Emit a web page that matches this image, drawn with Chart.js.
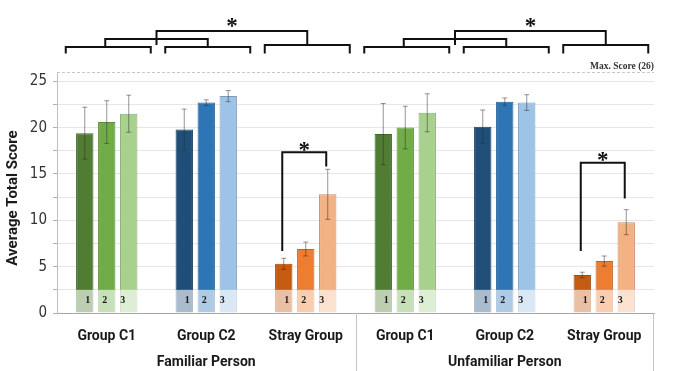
<!DOCTYPE html>
<html lang="en">
<head>
  <meta charset="UTF-8">
  <title>Average Total Score</title>
  <script src="https://cdn.jsdelivr.net/npm/chart.js"></script>
  <style>
    body { margin: 0; background: #fff; }
    .wrap { width: 690px; height: 371px; position: relative; }
  </style>
</head>
<body>
  <div class="wrap"><canvas id="chart"></canvas></div>

  <script>
    // data
    const groups = ['Group C1', 'Group C2', 'Stray Group', 'Group C1', 'Group C2', 'Stray Group'];
    const conditions = ['Familiar Person', 'Unfamiliar Person'];
    const sessions = ['1', '2', '3'];
    const score1 = [19.4, 19.8, 5.3, 19.3, 20.1, 4.1];
    const score2 = [20.6, 22.7, 6.9, 20.0, 22.8, 5.6];
    const score3 = [21.5, 23.4, 12.8, 21.6, 22.7, 9.8];
    const err1 = [2.8, 2.2, 0.6, 3.3, 1.8, 0.3];
    const err2 = [2.3, 0.3, 0.75, 2.3, 0.4, 0.55];
    const err3 = [2.0, 0.6, 2.7, 2.05, 0.85, 1.35];
    const yTicks = [0, 2.5, 5, 7.5, 10, 12.5, 15, 17.5, 20, 22.5, 25, 26];
    const maxScore = 26;

    // colours: [green, blue, orange] x session shade
    const palette = [
      ['#507d33', '#1f4e79', '#c55a11'],
      ['#70ad47', '#2e75b6', '#ed7d31'],
      ['#a9d18e', '#9dc3e6', '#f4b183']
    ];
    const borders = [
      ['#3f6428', '#183e60', '#9e480d'],
      ['#5a8c39', '#255e92', '#be6427'],
      ['#88a872', '#7e9cb8', '#c38e69']
    ];
    const colorsFor = (set, s) => groups.map((g, i) => set[s][i % 3]);

    const scores = [score1, score2, score3];
    const errs = [err1, err2, err3];

    const boldSans = '"Roboto", "DejaVu Sans", sans-serif';
    const narrow = '"Liberation Sans Narrow", "DejaVu Sans Condensed", sans-serif';
    const serif = '"Liberation Serif", "DejaVu Serif", serif';

    const extras = {
      id: 'extras',
      afterDatasetsDraw(chart) {
        const { ctx, scales: { x, y } } = chart;
        const base0 = y.getPixelForValue(0);
        const base25 = y.getPixelForValue(2.5);
        const numOffset = [3, -2, -6];

        ctx.save();
        chart.data.datasets.forEach((ds, s) => {
          chart.getDatasetMeta(s).data.forEach((bar, i) => {
            const left = bar.x - bar.width / 2;
            // washed out foot of each bar
            ctx.fillStyle = 'rgba(255,255,255,0.62)';
            ctx.fillRect(left - 0.5, base25, bar.width + 1, base0 - base25);
            ctx.fillStyle = '#1a1a1a';
            ctx.font = 'bold 10px ' + serif;
            ctx.textAlign = 'center';
            ctx.textBaseline = 'middle';
            ctx.fillText(sessions[s], bar.x + numOffset[s], 300);

            // error bar
            const v = ds.data[i], e = errs[s][i];
            const yt = y.getPixelForValue(v + e), yb = y.getPixelForValue(v - e);
            ctx.strokeStyle = 'rgba(45,45,45,0.5)';
            ctx.lineWidth = 1;
            ctx.beginPath();
            ctx.moveTo(bar.x, yt); ctx.lineTo(bar.x, yb);
            ctx.moveTo(bar.x - 2.5, yt); ctx.lineTo(bar.x + 2.5, yt);
            ctx.moveTo(bar.x - 2.5, yb); ctx.lineTo(bar.x + 2.5, yb);
            ctx.stroke();
          });
        });

        // dashed max score line
        ctx.strokeStyle = '#c8c8c8';
        ctx.setLineDash([3, 2]);
        ctx.beginPath();
        const ym = Math.round(y.getPixelForValue(maxScore)) + 0.5;
        ctx.moveTo(chart.chartArea.left, ym);
        ctx.lineTo(chart.chartArea.right, ym);
        ctx.stroke();
        ctx.setLineDash([]);
        ctx.fillStyle = '#333';
        ctx.font = 'bold 9.5px ' + serif;
        ctx.textAlign = 'right';
        ctx.textBaseline = 'alphabetic';
        ctx.fillText('Max. Score (26)', chart.chartArea.right, 69);

        // significance brackets over the stray group
        const m1 = chart.getDatasetMeta(0), m3 = chart.getDatasetMeta(2);
        const star = (cx, cy) => {
          ctx.fillStyle = '#111';
          ctx.font = 'bold 23px ' + serif;
          ctx.textAlign = 'center';
          ctx.textBaseline = 'top';
          ctx.fillText('*', cx, cy);
        };
        ctx.strokeStyle = '#111';
        ctx.lineWidth = 2;
        [[2, 17.35, 6.7, 15.8], [5, 16.2, 6.7, 12.35]].forEach(([i, top, lb, rb]) => {
          const xl = m1.data[i].x - 1.5, xr = m3.data[i].x - 1.5;
          ctx.beginPath();
          ctx.moveTo(xl, y.getPixelForValue(lb));
          ctx.lineTo(xl, y.getPixelForValue(top));
          ctx.lineTo(xr, y.getPixelForValue(top));
          ctx.lineTo(xr, y.getPixelForValue(rb));
          ctx.stroke();
          star((xl + xr) / 2, y.getPixelForValue(top) - 13);
        });

        // comparison tree on top
        const bracket = (xl, xr, yTop, yBot) => {
          ctx.beginPath();
          ctx.moveTo(xl, yBot); ctx.lineTo(xl, yTop);
          ctx.lineTo(xr, yTop); ctx.lineTo(xr, yBot);
          ctx.stroke();
        };
        [0, 3].forEach(k => {
          const mids = [];
          for (let j = 0; j < 3; j++) {
            const c = x.getPixelForValue(k + j);
            const yTop = j === 2 ? 45 : 47;
            bracket(c - 41, c + 44, yTop, 53.5);
            mids.push((c - 41 + c + 44) / 2);
          }
          bracket(mids[0] - 3, mids[1], 39, 47);
          const m12 = (mids[0] - 3 + mids[1]) / 2;
          bracket(m12, mids[2], 31, 45);
          star((m12 + mids[2]) / 2, 16);
        });
        ctx.restore();
      },
      afterDraw(chart) {
        const { ctx, chartArea, scales: { x } } = chart;
        ctx.save();
        // separators under the axis
        ctx.strokeStyle = '#c4c4c4';
        ctx.lineWidth = 1;
        const sep = Math.round((x.getPixelForValue(2) + x.getPixelForValue(3)) / 2) + 0.5;
        ctx.beginPath();
        ctx.moveTo(sep, chartArea.bottom); ctx.lineTo(sep, 371);
        ctx.moveTo(Math.round(chartArea.right) - 0.5, chartArea.bottom);
        ctx.lineTo(Math.round(chartArea.right) - 0.5, 371);
        ctx.stroke();
        // condition labels
        ctx.fillStyle = '#1a1a1a';
        ctx.font = 'bold 14px ' + boldSans;
        ctx.textAlign = 'center';
        ctx.textBaseline = 'middle';
        conditions.forEach((c, k) => ctx.fillText(c, x.getPixelForValue(k * 3 + 1), 362));
        // y title
        ctx.translate(13, 198);
        ctx.rotate(-Math.PI / 2);
        ctx.font = 'bold 15px ' + boldSans;
        ctx.fillText('Average Total Score', 0, 0);
        ctx.restore();
      }
    };

    new Chart(document.getElementById('chart'), {
      type: 'bar',
      data: {
        labels: groups,
        datasets: scores.map((data, s) => ({
          label: sessions[s],
          data,
          backgroundColor: colorsFor(palette, s),
          borderColor: colorsFor(borders, s),
          borderWidth: 1,
          categoryPercentage: 0.663,
          barPercentage: 0.79
        }))
      },
      options: {
        responsive: true,
        maintainAspectRatio: false,
        animation: false,
        layout: { padding: { left: 0, right: 36, top: 72, bottom: 0 } },
        plugins: { legend: { display: false }, tooltip: { enabled: false } },
        scales: {
          x: {
            grid: { display: false },
            border: { color: '#a6a6a6' },
            ticks: {
              color: '#1a1a1a',
              padding: 7,
              font: { family: boldSans, size: 14, weight: 'bold' }
            },
            afterFit: s => { s.height = 58; }
          },
          y: {
            min: 0,
            max: maxScore,
            afterBuildTicks: s => { s.ticks = yTicks.map(v => ({ value: v })); },
            afterFit: s => { s.width = 57; },
            grid: {
              color: c => (c.tick && c.tick.value === maxScore) ? 'rgba(0,0,0,0)' : '#e6e6e6',
              tickColor: c => (c.tick && c.tick.value === maxScore) ? 'rgba(0,0,0,0)' : '#b0b0b0',
              tickLength: 4
            },
            border: { color: '#c0c0c0' },
            ticks: {
              color: '#333',
              padding: 6,
              font: { family: narrow, size: 15 },
              callback: v => (v % 5 === 0 ? String(v) : '')
            }
          }
        }
      },
      plugins: [extras]
    });
  </script>
</body>
</html>
